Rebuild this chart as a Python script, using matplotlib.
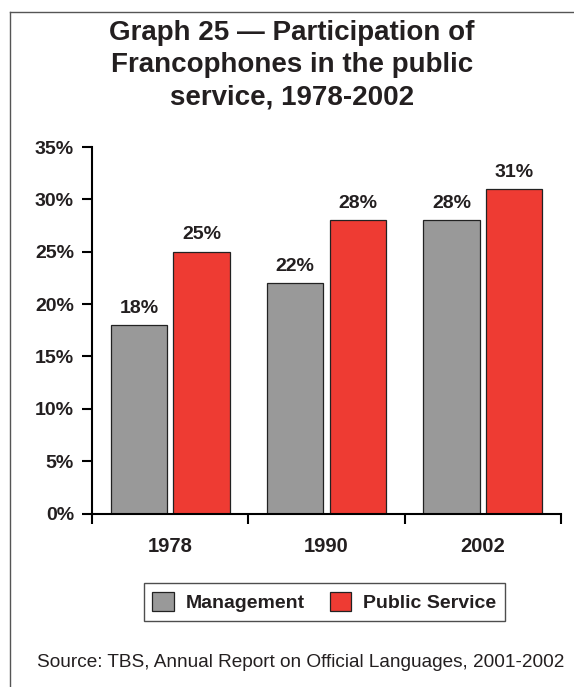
import matplotlib.pyplot as plt
import numpy as np
from matplotlib.lines import Line2D
from matplotlib.patches import Patch

plt.rcParams['font.family'] = ['Liberation Sans', 'DejaVu Sans']

years = ['1978', '1990', '2002']
management = [18, 22, 28]
public_service = [25, 28, 31]
yticks = [0, 5, 10, 15, 20, 25, 30, 35]

text_color = '#231f20'
grey = '#999999'
red = '#ee3b33'

fig = plt.figure(figsize=(5.74, 6.87), dpi=100)
ax = fig.add_axes([0.1603, 0.2525, 0.8171, 0.5335])

x = np.arange(len(years))
width = 0.36
offset = 0.2

b1 = ax.bar(x - offset, management, width, color=grey, edgecolor='#222222', linewidth=0.9)
b2 = ax.bar(x + offset, public_service, width, color=red, edgecolor='#222222', linewidth=0.9)

for bars in (b1, b2):
    for bar in bars:
        h = bar.get_height()
        ax.annotate(f'{h:.0f}%', (bar.get_x() + bar.get_width() / 2, h),
                    xytext=(0, 6), textcoords='offset points',
                    ha='center', va='bottom', fontsize=14, fontweight='bold',
                    color=text_color)

ax.set_xlim(-0.5, 2.5)
ax.set_ylim(0, 35)
ax.set_yticks(yticks)
ax.set_yticklabels([f'{t}%' for t in yticks], fontsize=14, fontweight='bold', color=text_color)
ax.set_xticks([-0.5, 0.5, 1.5, 2.5])
ax.set_xticklabels([])
ax.set_xticks(x, minor=True)
ax.set_xticklabels(years, minor=True, fontsize=14.5, fontweight='bold', color=text_color)
ax.tick_params(axis='x', which='minor', length=0, pad=17)
ax.tick_params(axis='x', which='major', length=7, width=1.5, direction='out', color='black')
ax.tick_params(axis='y', length=7, width=1.5, direction='out', color='black', pad=6)

for side in ('top', 'right'):
    ax.spines[side].set_visible(False)
for side in ('left', 'bottom'):
    ax.spines[side].set_linewidth(1.5)
    ax.spines[side].set_color('black')

fig.text(0.509, 0.905, 'Graph 25 \u2014 Participation of\nFrancophones in the public\nservice, 1978-2002',
         ha='center', va='center', fontsize=20, fontweight='bold', color=text_color, linespacing=1.29)

handles = [Patch(facecolor=grey, edgecolor='#222222', linewidth=0.9, label='Management'),
           Patch(facecolor=red, edgecolor='#222222', linewidth=0.9, label='Public Service')]
leg = fig.legend(handles=handles, loc='center', bbox_to_anchor=(0.565, 0.1237), ncol=2,
                 frameon=True, fancybox=False, edgecolor='#222222', fontsize=14,
                 handlelength=1.1, handleheight=1.1, handletextpad=0.6, columnspacing=1.3,
                 borderpad=0.45)
leg.get_frame().set_linewidth(1.0)
for t in leg.get_texts():
    t.set_fontweight('bold')
    t.set_color(text_color)

fig.text(0.523, 0.036, 'Source: TBS, Annual Report on Official Languages, 2001-2002',
         ha='center', va='center', fontsize=13.7, color=text_color)

# outer frame: left and top edges only
fig.add_artist(Line2D([0.0175, 0.0175], [0.0, 0.9825], transform=fig.transFigure, color='#555555', linewidth=1.0))
fig.add_artist(Line2D([0.0175, 1.0], [0.9825, 0.9825], transform=fig.transFigure, color='#555555', linewidth=1.0))

fig.savefig('out.png', dpi=100)
